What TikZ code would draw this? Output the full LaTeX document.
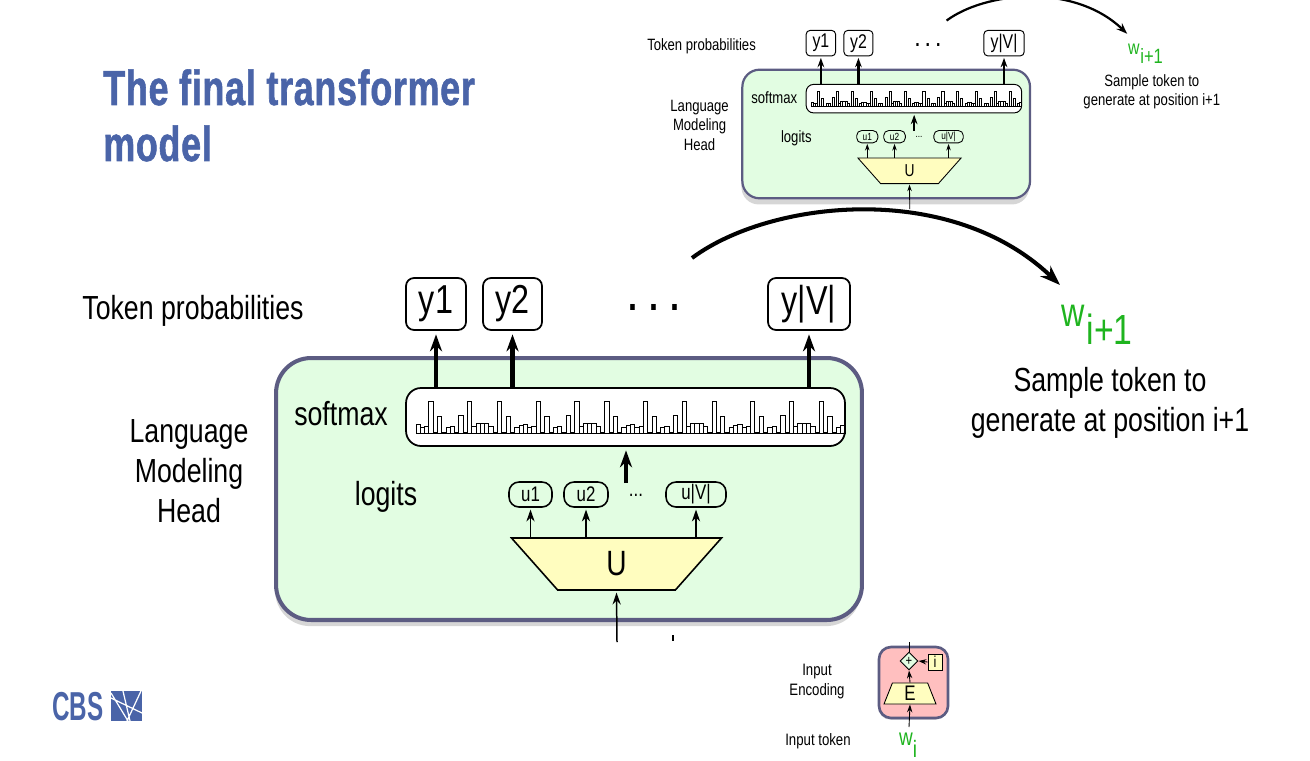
\documentclass[tikz,border=0pt]{standalone}
\usepackage{fontspec}
\setmainfont[FakeStretch=0.8]{Liberation Sans}
\newfontfamily\titlefont[FakeStretch=0.728,LetterSpace=1.5,BoldFeatures={FakeBold=1.2}]{Liberation Sans}
\newfontfamily\logofont[FakeStretch=0.6]{Liberation Sans}
\usepackage{xcolor}
\usetikzlibrary{arrows.meta,shapes.geometric,shadows}
\definecolor{headfill}{HTML}{E2FDE2}
\definecolor{headedge}{HTML}{5C5C82}
\definecolor{unityel}{HTML}{FFFDBF}
\definecolor{encpink}{HTML}{FFBFBF}
\definecolor{tokgreen}{HTML}{1FB41F}
\definecolor{cbsblue}{HTML}{4A64A8}
\newcommand{\lw}{1}
\newcommand{\rs}{1}
\tikzset{
  lab/.style={inner sep=0pt,align=center,font=\fontsize{19}{22.7}\selectfont},
  minilab/.style={inner sep=0pt,align=center,font=\fontsize{9.4}{11.4}\selectfont},
  headbox/.style={draw=headedge,fill=headfill,line width=\lw*2.3pt,rounded corners=\rs*0.7cm,inner sep=0pt,
    drop shadow={shadow xshift=-0.5pt,shadow yshift=-3.5pt,opacity=0.32}},
  outbox/.style={draw,fill=white,line width=\lw*1pt,rounded corners=\rs*0.16cm,inner sep=0pt,minimum height=1.04cm,font=\fontsize{23}{23}\selectfont},
  logitbox/.style={draw,line width=\lw*0.9pt,rounded corners=\rs*0.2cm,inner sep=0pt,minimum height=0.5cm,font=\fontsize{12}{12}\selectfont},
  smbox/.style={draw,fill=white,line width=\lw*1pt,rounded corners=\rs*0.3cm,inner sep=0pt,minimum width=8.78cm,minimum height=1.16cm},
  unitbox/.style={trapezium,draw,fill=unityel,line width=\lw*0.9pt,inner sep=0pt,trapezium stretches body=true},
  histbar/.style={draw,line width=\lw*0.5pt},
  thk/.style={line width=\lw*2.3pt,-{Stealth[length=0pt 4.2 0,width=0pt 3 0]}},
  thn/.style={line width=\lw*0.85pt,-{Stealth[length=0pt 8 0,width=0pt 5.5 0]}},
  bow/.style={line width=\lw*2.3pt,-{Stealth[length=0pt 5 0,width=0pt 3.6 0]}}
}
\newcommand{\headblock}[1]{
\node[lab] (#1tp) at (193,311) {Token probabilities};
\node[outbox,minimum width=1.2cm] (#1y1) at (436,304) {y1};
\node[outbox,minimum width=1.18cm] (#1y2) at (512.5,304) {y2};
\node[lab,font=\fontsize{23}{23}\bfseries] (#1dots) at (654,307) {. . .};
\node[outbox,minimum width=1.64cm] (#1yv) at (809,304) {y|V|};
\node[headbox,minimum width=11.72cm,minimum height=5.24cm] (#1head) at (569,489) {};
\node[lab] (#1lmh) at (189,471) {Language\\Modeling\\Head};
\node[lab] (#1smt) at (341,414) {softmax};
\node[smbox] (#1sm) at (625.5,417) {};
\foreach \p in {0,...,3} {
  \foreach \h [count=\i from 0] in {9,6,7,32,1,17,1,6,7,1,18,1,32,7,10,10,10,7,1,32,1,17,1,6,8} {
    \draw[histbar] ({416+4.29*(\p*25+\i)},433) rectangle ++(4.29,-\h);
  }
}
\node[lab] (#1lg) at (386,497) {logits};
\node[logitbox,minimum width=0.86cm] (#1u1) at (530.5,494.5) {u1};
\node[logitbox,minimum width=0.88cm] (#1u2) at (586,494.5) {u2};
\node[inner sep=0pt,font=\fontsize{12}{12}\selectfont] (#1ud) at (636,495) {...};
\node[logitbox,minimum width=1.2cm] (#1uv) at (696,494.5) {u|V|};
\node[unitbox,shape border rotate=180,trapezium angle=28,minimum width=4.2cm,minimum height=1.04cm,font=\fontsize{20}{20}\selectfont] (#1U) at (616.5,564) {U};
\coordinate (#1in) at (617,642);
\coordinate (#1m) at (626,483);
\coordinate (#1as) at (692,258);
\coordinate (#1ae) at (1060,285);
\draw[thk] (#1y1.south |- #1sm.north) -- ([yshift=-2pt]#1y1.south);
\draw[thk] (#1y2.south |- #1sm.north) -- ([yshift=-2pt]#1y2.south);
\draw[thk] (#1yv.south |- #1sm.north) -- ([yshift=-2pt]#1yv.south);
\draw[thk] (#1m) -- ([yshift=-2pt]#1m |- #1sm.south);
\draw[thn] (#1u1.south |- #1U.north) -- ([yshift=-1pt]#1u1.south);
\draw[thn] (#1u2.south |- #1U.north) -- ([yshift=-1pt]#1u2.south);
\draw[thn] (#1uv.south |- #1U.north) -- ([yshift=-1pt]#1uv.south);
\draw[thn] (#1in) -- ([yshift=-1pt]#1U.south);
\draw[bow] (#1as) .. controls (770,200) and (950,180) .. (#1ae);
\node[lab,text=tokgreen,font=\fontsize{23}{23}\selectfont] (#1w) at (1097,325) {w\hspace{1pt}\raisebox{-0.45em}{\fontsize{24}{24}\selectfont i+1}};
\node[lab] (#1st) at (1110,403) {Sample token to\\generate at position i+1};
}

\begin{document}
\begin{tikzpicture}[x=0.02cm,y=-0.02cm]
\useasboundingbox (0,0) rectangle (1310,760);
\clip (0,0) rectangle (1310,760);
\node[anchor=base west,inner sep=0pt,text=cbsblue,font=\titlefont\fontsize{28}{28}\bfseries] (ttl) at (103,105) {The final transformer};
\node[anchor=base west,inner sep=0pt,text=cbsblue,font=\titlefont\fontsize{28}{28}\bfseries] (ttlb) at (103,161) {model};
% big head and its small copy
\headblock{b}
\begin{scope}[shift={(606.8,-106.1)},scale=0.491,transform shape]
\renewcommand{\lw}{0.55}
\renewcommand{\rs}{0.491}
\headblock{t}
\end{scope}
\coordinate (tka) at (673,635);
\coordinate (tkb) at (673,641);
\draw[line width=1.3pt] (tka) -- (tkb);
% input encoding
\node[draw=headedge,fill=encpink,line width=1.5pt,rounded corners=0.24cm,minimum width=1.38cm,minimum height=1.42cm,inner sep=0pt,
  drop shadow={shadow xshift=-0.3pt,shadow yshift=-1pt,opacity=0.3}] (enc) at (913.5,682.5) {};
\node[diamond,draw,fill=headfill,line width=0.5pt,inner sep=0pt,minimum size=0.36cm,font=\fontsize{8}{8}\selectfont] (plus) at (909,661) {+};
\node[draw,fill=unityel,line width=0.5pt,inner sep=0pt,minimum width=0.28cm,minimum height=0.32cm,font=\fontsize{9}{9}\selectfont] (pos) at (935,662) {i};
\node[trapezium,draw,fill=unityel,line width=0.5pt,inner sep=0pt,trapezium stretches body=true,trapezium angle=60,minimum width=1.04cm,minimum height=0.42cm,font=\fontsize{12}{12}\selectfont] (E) at (910,693.5) {E};
\node[minilab] (iet) at (817,682) {Input\\Encoding};
\node[minilab] (itk) at (818,741.5) {Input token};
\node[inner sep=0pt,text=tokgreen,font=\fontsize{13.5}{13.5}\selectfont] (wi) at (908,745) {w\raisebox{-0.5em}{i}};
\coordinate (top) at (909,642);
\coordinate (low) at (909,727);
\draw[line width=0.5pt] (plus.north) -- (top);
\draw[line width=0.5pt,-{Stealth[length=0pt 9 0,width=0pt 6 0]}] (E.north) -- (plus.south);
\draw[line width=0.5pt,-{Stealth[length=0pt 9 0,width=0pt 6 0]}] (pos.west) -- (plus.east);
\draw[line width=0.5pt,-{Stealth[length=0pt 9 0,width=0pt 6 0]}] (low) -- (E.south);
% logo
\node[anchor=base west,inner sep=0pt,text=cbsblue,font=\logofont\fontsize{23}{23}\bfseries] (cbs) at (52,720) {CBS};
\fill[cbsblue] (111,691) rectangle (142,721);
\draw[white,line width=0.7pt] (111,693) -- (128,721) (123,691) -- (130,721) (141,691) -- (127,721) (111,698) -- (142,713);
\end{tikzpicture}
\end{document}
